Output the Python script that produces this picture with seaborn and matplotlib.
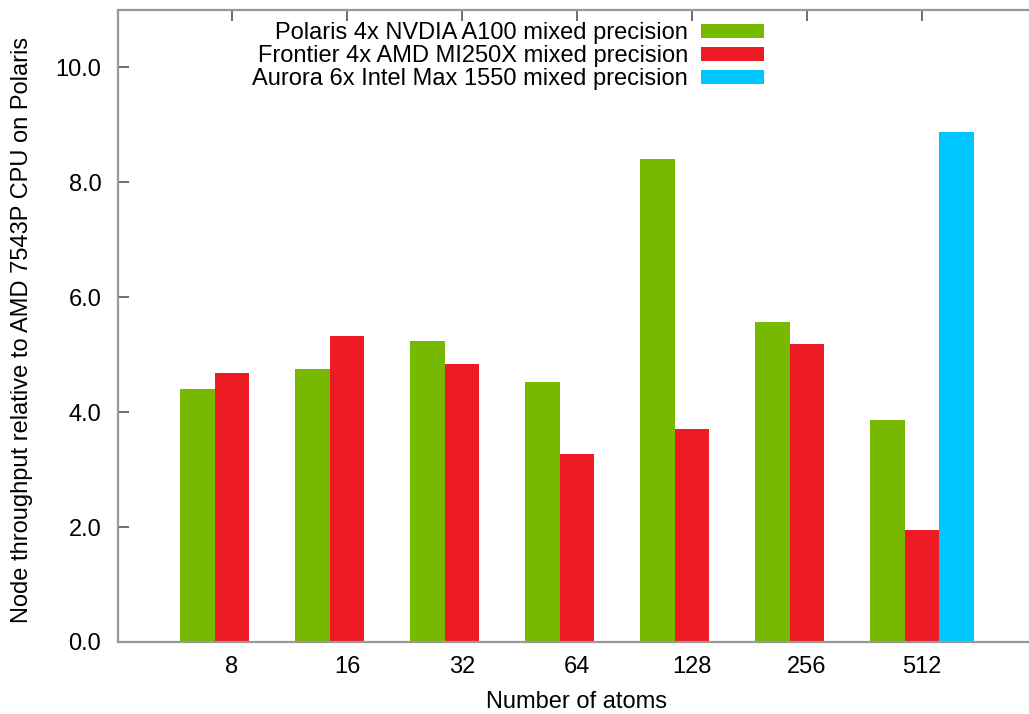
import pandas as pd
import matplotlib
matplotlib.use("Agg")
import matplotlib.pyplot as plt
import seaborn as sns

# values
atoms = ['8', '16', '32', '64', '128', '256', '512']
polaris = [4.41, 4.76, 5.24, 4.53, 8.40, 5.57, 3.87]
frontier = [4.69, 5.33, 4.84, 3.28, 3.71, 5.19, 1.95]
aurora_atoms = ['512']
aurora = [8.87]

systems = ['Polaris 4x NVDIA A100 mixed precision',
           'Frontier 4x AMD MI250X mixed precision',
           'Aurora 6x Intel Max 1550 mixed precision']
colors = ['#77b800', '#ed1c24', '#00c6ff']

rows = []
for a, v in zip(atoms, polaris):
    rows.append({'atoms': a, 'value': v, 'system': systems[0]})
for a, v in zip(atoms, frontier):
    rows.append({'atoms': a, 'value': v, 'system': systems[1]})
for a, v in zip(aurora_atoms, aurora):
    rows.append({'atoms': a, 'value': v, 'system': systems[2]})
df = pd.DataFrame(rows)

sns.set_style("white")
plt.rcParams['font.family'] = ['Liberation Sans', 'DejaVu Sans']
plt.rcParams['text.color'] = 'black'
plt.rcParams['axes.labelcolor'] = 'black'
plt.rcParams['xtick.labelcolor'] = 'black'
plt.rcParams['ytick.labelcolor'] = 'black'

fig = plt.figure(figsize=(10.29, 7.14), dpi=100)
W, H = 1029, 714
ax = fig.add_axes([118 / W, 1 - 642 / H, 1 - 118 / W, (642 - 10) / H])

sns.barplot(data=df, x='atoms', y='value', hue='system', order=atoms,
            hue_order=systems, palette=colors, width=0.9, gap=0,
            saturation=1, linewidth=0, ax=ax, zorder=2)

ax.set_xlim((118 - 232) / 115, (W - 232) / 115)
ax.set_ylim(0, 11)
yt = [0, 2, 4, 6, 8, 10]
ax.set_yticks(yt)
ax.set_yticklabels([f"{v:.1f}" for v in yt], fontsize=17)
ax.set_xticks(range(len(atoms)))
ax.set_xticklabels(atoms, fontsize=17)

ax.tick_params(axis='x', top=True, bottom=False, direction='in', length=8,
               width=1.2, color='#555555', pad=10)
ax.tick_params(axis='y', left=True, direction='in', length=8, width=1.2,
               color='#555555', pad=12)

for side in ['left', 'bottom', 'top']:
    ax.spines[side].set_color('#999999')
    ax.spines[side].set_linewidth(1.6)
ax.spines['right'].set_visible(False)

ax.set_xlabel('Number of atoms', fontsize=17, va='center')
ax.set_ylabel('Node throughput relative to AMD 7543P CPU on Polaris',
              fontsize=17, va='center')
ax.xaxis.set_label_coords((577 - 118) / (W - 118), (642 - 702) / 632)
ax.yaxis.set_label_coords((22 - 118) / (W - 118), (642 - 330) / 632)

ax.legend(loc='upper right', bbox_to_anchor=((764 - 118) / (W - 118), (642 - 22) / 632),
          frameon=False, markerfirst=False, fontsize=17, handlelength=2.67,
          handleheight=0.55, handletextpad=0.55, labelspacing=0.05,
          borderaxespad=0, borderpad=0)

fig.savefig('out.png', dpi=100)
